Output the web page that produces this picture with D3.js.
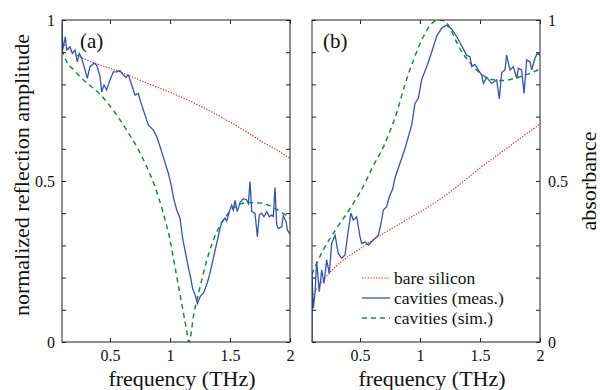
<!DOCTYPE html>
<html>
<head>
<meta charset="utf-8">
<title>Reflection and absorbance</title>
<script src="https://d3js.org/d3.v7.min.js"></script>
<style>
  * { margin: 0; padding: 0; }
  body { background: #fff; }
</style>
</head>
<body>
<div id="chart"></div>
<script>
// ---- data ----
const xTicks = [0.5, 1, 1.5, 2];
const yTicks = [0, 0.1, 0.2, 0.3, 0.4, 0.5, 0.6, 0.7, 0.8, 0.9, 1];
const yTickLabels = { 0: "0", 0.5: "0.5", 1: "1" };
const legendLabels = ["bare silicon", "cavities (meas.)", "cavities (sim.)"];

// panel (a): normalized reflection amplitude
const siliconReflFreq = [0.1, 0.2, 0.375, 0.542, 0.708, 0.875, 1.042, 1.2, 1.35, 1.5, 1.65, 1.8, 1.9, 2.0];
const siliconRefl = [0.929, 0.897, 0.866, 0.845, 0.82, 0.794, 0.769, 0.742, 0.714, 0.683, 0.65, 0.615, 0.594, 0.570];

const measReflFreq = [0.1, 0.106, 0.128, 0.139, 0.167, 0.186, 0.208, 0.228, 0.244, 0.264, 0.292, 0.311, 0.333, 0.367, 0.389,
  0.417, 0.431, 0.45, 0.472, 0.5, 0.528, 0.556, 0.583, 0.611, 0.633, 0.653, 0.681, 0.708, 0.736, 0.75, 0.778, 0.819, 0.861,
  0.889, 0.917, 0.944, 0.986, 1.0, 1.014, 1.028, 1.056, 1.083, 1.106, 1.133, 1.153, 1.172, 1.189, 1.208, 1.228, 1.25, 1.283,
  1.311, 1.333, 1.361, 1.389, 1.417, 1.431, 1.458, 1.472, 1.494, 1.514, 1.528, 1.542, 1.561, 1.583, 1.611, 1.639, 1.653,
  1.667, 1.681, 1.708, 1.728, 1.744, 1.764, 1.783, 1.806, 1.828, 1.847, 1.861, 1.875, 1.889, 1.903, 1.931, 1.944, 1.967,
  1.978, 2.0];
const measRefl = [1.0, 0.907, 0.948, 0.907, 0.917, 0.896, 0.907, 0.870, 0.896, 0.881, 0.845, 0.819, 0.855, 0.866, 0.860,
  0.824, 0.777, 0.798, 0.783, 0.814, 0.839, 0.839, 0.843, 0.829, 0.822, 0.829, 0.798, 0.767, 0.772, 0.752, 0.720, 0.674, 0.658,
  0.638, 0.607, 0.575, 0.524, 0.503, 0.48, 0.45, 0.41, 0.385, 0.32, 0.27, 0.232, 0.2, 0.165, 0.148, 0.12, 0.14, 0.155,
  0.185, 0.213, 0.26, 0.306, 0.353, 0.372, 0.385, 0.375, 0.405, 0.425, 0.41, 0.44, 0.405, 0.433, 0.445, 0.441, 0.43,
  0.498, 0.405, 0.400, 0.327, 0.395, 0.400, 0.389, 0.405, 0.389, 0.394, 0.39, 0.48, 0.365, 0.353, 0.358, 0.392, 0.374,
  0.348, 0.335];

const simReflFreq = [0.1, 0.139, 0.2, 0.25, 0.3, 0.361, 0.42, 0.472, 0.556, 0.639, 0.722, 0.806, 0.875, 0.944, 1.0, 1.042,
  1.097, 1.133, 1.158, 1.2, 1.25, 1.3, 1.35, 1.4, 1.458, 1.542, 1.653, 1.764, 1.875, 2.0];
const simRefl = [0.907, 0.870, 0.845, 0.824, 0.807, 0.788, 0.768, 0.746, 0.705, 0.658, 0.607, 0.544, 0.482, 0.400, 0.317,
  0.232, 0.12, 0.048, 0.0, 0.09, 0.17, 0.245, 0.305, 0.35, 0.385, 0.42, 0.433, 0.431, 0.415, 0.384];

// panel (b): absorbance
const siliconAbsFreq = [0.1, 0.15, 0.2, 0.3, 0.4, 0.5, 0.6, 0.7, 0.8, 0.9, 1.0, 1.1, 1.2, 1.3, 1.4, 1.5, 1.6, 1.7, 1.8, 1.9, 2.0];
const siliconAbs = [0.14, 0.17, 0.195, 0.235, 0.265, 0.29, 0.315, 0.338, 0.36, 0.382, 0.404, 0.427, 0.452, 0.48, 0.51, 0.54,
  0.568, 0.595, 0.623, 0.65, 0.677];

const measAbsFreq = [0.1, 0.1, 0.111, 0.125, 0.139, 0.161, 0.181, 0.2, 0.222, 0.244, 0.264, 0.292, 0.319, 0.347, 0.375,
  0.403, 0.425, 0.444, 0.472, 0.5, 0.514, 0.542, 0.569, 0.611, 0.653, 0.681, 0.694, 0.722, 0.744, 0.772, 0.792, 0.833,
  0.847, 0.875, 0.931, 0.958, 0.986, 1.014, 1.056, 1.097, 1.139, 1.181, 1.222, 1.264, 1.306, 1.347, 1.389, 1.417, 1.431,
  1.458, 1.486, 1.514, 1.528, 1.556, 1.597, 1.639, 1.661, 1.681, 1.708, 1.722, 1.75, 1.778, 1.806, 1.819, 1.847, 1.867,
  1.889, 1.917, 1.931, 1.958, 1.978, 2.0];
const measAbs = [0.0, 0.207, 0.105, 0.151, 0.249, 0.156, 0.224, 0.182, 0.255, 0.213, 0.306, 0.332, 0.275, 0.26, 0.27,
  0.348, 0.4, 0.379, 0.389, 0.327, 0.306, 0.311, 0.301, 0.317, 0.332, 0.379, 0.41, 0.42, 0.451, 0.475, 0.51, 0.555,
  0.57, 0.601, 0.674, 0.741, 0.757, 0.815, 0.855, 0.9, 0.95, 0.975, 0.984, 0.972, 0.948, 0.92, 0.89, 0.886, 0.855,
  0.862, 0.845, 0.829, 0.803, 0.822, 0.803, 0.814, 0.755, 0.837, 0.845, 0.891, 0.845, 0.855, 0.819, 0.85, 0.845, 0.772,
  0.876, 0.870, 0.845, 0.881, 0.896, 0.891];

const simAbsFreq = [0.1, 0.14, 0.2, 0.3, 0.4, 0.5, 0.55, 0.6, 0.7, 0.75, 0.8, 0.875, 0.95, 1.03, 1.1, 1.15, 1.2, 1.25, 1.3,
  1.35, 1.4, 1.5, 1.6, 1.7, 1.8, 1.9, 2.0];
const simAbs = [0.21, 0.245, 0.29, 0.35, 0.405, 0.465, 0.5, 0.54, 0.61, 0.655, 0.705, 0.8, 0.88, 0.95, 0.99, 1.0, 0.998,
  0.975, 0.935, 0.9, 0.875, 0.835, 0.815, 0.812, 0.82, 0.832, 0.848];

// ---- styles ----
const red = "#f0282a", blue = "#3355aa", green = "#1e8a3c";
const styles = {
  silicon: { color: red, width: 1.1, dash: "1.4,1.4" },
  meas: { color: blue, width: 1.3, dash: null },
  sim: { color: green, width: 1.5, dash: "5,4" }
};
const font = "'Liberation Serif', 'Times New Roman', serif";

const W = 600, H = 390;
const plotTop = 20, plotBottom = 342;

const svg = d3.select("#chart").append("svg")
  .attr("width", W).attr("height", H)
  .attr("font-family", font);

const zip = (xs, ys) => xs.map((x, i) => [x, ys[i]]);

function panel(id, left, right, series, label, labelDx, labelSide) {
  const x = d3.scaleLinear().domain([0.1, 2]).range([left, right]);
  const y = d3.scaleLinear().domain([0, 1]).range([plotBottom, plotTop]);
  const g = svg.append("g");

  g.append("clipPath").attr("id", "clip-" + id)
    .append("rect").attr("x", left).attr("y", plotTop)
    .attr("width", right - left).attr("height", plotBottom - plotTop);

  const plot = g.append("g").attr("clip-path", `url(#clip-${id})`);
  series.forEach(s => {
    const st = styles[s.kind];
    const line = d3.line()
      .x(d => x(d[0])).y(d => y(d[1]))
      .curve(s.kind === "meas" ? d3.curveLinear : d3.curveMonotoneX);
    plot.append("path")
      .datum(zip(s.f, s.v))
      .attr("fill", "none")
      .attr("stroke", st.color)
      .attr("stroke-width", st.width)
      .attr("stroke-dasharray", st.dash)
      .attr("d", line);
  });

  const fmtY = d => yTickLabels[Math.round(d * 10) / 10] || "";
  const fmtX = d => String(d);

  const axB = g.append("g").attr("transform", `translate(0,${plotBottom})`)
    .call(d3.axisBottom(x).tickValues(xTicks).tickSize(-4).tickPadding(8).tickFormat(fmtX));
  const axT = g.append("g").attr("transform", `translate(0,${plotTop})`)
    .call(d3.axisTop(x).tickValues(xTicks).tickSize(-4).tickFormat(""));
  const axL = g.append("g").attr("transform", `translate(${left},0)`)
    .call(d3.axisLeft(y).tickValues(yTicks).tickSize(-4).tickPadding(7)
      .tickFormat(labelSide === "left" ? fmtY : ""));
  const axR = g.append("g").attr("transform", `translate(${right},0)`)
    .call(d3.axisRight(y).tickValues(yTicks).tickSize(-4).tickPadding(8)
      .tickFormat(labelSide === "right" ? fmtY : ""));

  [axB, axT, axL, axR].forEach(a => {
    a.attr("font-family", font).attr("font-size", 16);
    a.select(".domain").remove();
    a.selectAll("line").attr("stroke", "#222");
    a.selectAll("text").attr("fill", "#111");
  });

  g.append("rect").attr("x", left).attr("y", plotTop)
    .attr("width", right - left).attr("height", plotBottom - plotTop)
    .attr("fill", "none").attr("stroke", "#222").attr("stroke-width", 1);

  g.append("text").attr("x", left + labelDx).attr("y", 48)
    .attr("font-size", 21).attr("fill", "#111").text(label);

  g.append("text")
    .attr("x", (x(0.1) + x(2)) / 2 + 6).attr("y", 386)
    .attr("text-anchor", "middle")
    .attr("font-size", 22).attr("fill", "#111")
    .text("frequency (THz)");

  return { x, y, g };
}

panel("a", 62, 290, [
  { kind: "silicon", f: siliconReflFreq, v: siliconRefl },
  { kind: "sim", f: simReflFreq, v: simRefl },
  { kind: "meas", f: measReflFreq, v: measRefl }
], "(a)", 18, "left");

panel("b", 312, 540, [
  { kind: "silicon", f: siliconAbsFreq, v: siliconAbs },
  { kind: "sim", f: simAbsFreq, v: simAbs },
  { kind: "meas", f: measAbsFreq, v: measAbs }
], "(b)", 11, "right");

// axis titles
svg.append("text")
  .attr("transform", `translate(29,${(plotTop + plotBottom) / 2 - 6}) rotate(-90)`)
  .attr("text-anchor", "middle")
  .attr("font-size", 22).attr("fill", "#111")
  .text("normalized reflection amplitude");

svg.append("text")
  .attr("transform", `translate(596,${(plotTop + plotBottom) / 2}) rotate(-90)`)
  .attr("text-anchor", "middle")
  .attr("font-size", 22).attr("fill", "#111")
  .text("absorbance");

// legend inside panel (b)
const legend = svg.append("g").attr("transform", "translate(362,278)");
["silicon", "meas", "sim"].forEach((k, i) => {
  const st = styles[k];
  const row = legend.append("g").attr("transform", `translate(0,${i * 20})`);
  row.append("line").attr("x1", 0).attr("x2", 28).attr("y1", 0).attr("y2", 0)
    .attr("stroke", st.color).attr("stroke-width", st.width)
    .attr("stroke-dasharray", st.dash);
  row.append("text").attr("x", 32).attr("y", 6)
    .attr("font-size", 17.5).attr("fill", "#111")
    .text(legendLabels[i]);
});
</script>
</body>
</html>
